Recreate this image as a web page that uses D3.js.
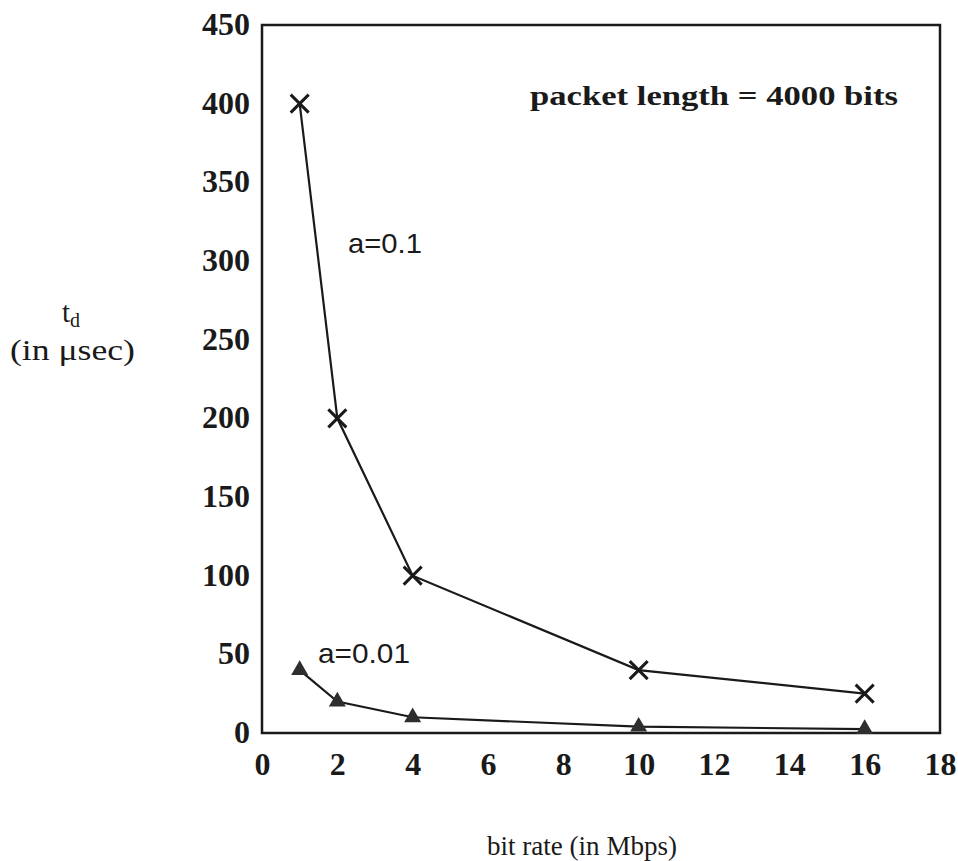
<!DOCTYPE html>
<html>
<head>
<meta charset="utf-8">
<script src="https://cdn.jsdelivr.net/npm/d3@7"></script>
<style>
  body { margin: 0; background: #fff; }
  svg { display: block; }
</style>
</head>
<body>
<svg id="chart" width="958" height="861"></svg>
<script>
// data
const bitRates = [1, 2, 4, 10, 16];
const delayA01 = [400, 200, 100, 40, 25];
const delayA001 = [40, 20, 10, 4, 2.5];
const xTicks = [0, 2, 4, 6, 8, 10, 12, 14, 16, 18];
const yTicks = [0, 50, 100, 150, 200, 250, 300, 350, 400, 450];

const svg = d3.select('#chart');
const margin = { left: 262, top: 25, right: 18, bottom: 128 };
const width = 958 - margin.left - margin.right;
const height = 861 - margin.top - margin.bottom;

const x = d3.scaleLinear().domain([0, 18]).range([0, width]);
const y = d3.scaleLinear().domain([0, 450]).range([height, 0]);

const g = svg.append('g').attr('transform', `translate(${margin.left},${margin.top})`);

const ink = '#1a1a1a';
const serif = '"Liberation Serif", "DejaVu Serif", serif';
const sans = '"Liberation Sans", Arial, sans-serif';

// frame
g.append('rect')
  .attr('width', width).attr('height', height)
  .attr('fill', 'none').attr('stroke', ink).attr('stroke-width', 2.5);

// axes (labels only, no tick marks)
const xAxis = g.append('g').attr('transform', `translate(0,${height})`)
  .call(d3.axisBottom(x).tickValues(xTicks).tickSize(0));
xAxis.selectAll('text').attr('dy', null).attr('y', 42);

const yAxis = g.append('g')
  .call(d3.axisLeft(y).tickValues(yTicks).tickSize(0).tickPadding(12));
yAxis.selectAll('text').attr('dy', '0.3em');

[xAxis, yAxis].forEach(a => {
  a.select('.domain').remove();
  a.selectAll('text')
    .attr('font-family', serif).attr('font-weight', 'bold')
    .attr('font-size', 32).attr('fill', ink);
});

const line = d3.line().x(d => x(d[0])).y(d => y(d[1]));

const s1 = bitRates.map((b, i) => [b, delayA01[i]]);
const s2 = bitRates.map((b, i) => [b, delayA001[i]]);

g.append('path').datum(s1).attr('d', line)
  .attr('fill', 'none').attr('stroke', ink).attr('stroke-width', 2.2);
g.append('path').datum(s2).attr('d', line)
  .attr('fill', 'none').attr('stroke', ink).attr('stroke-width', 2.2);

// cross markers
g.selectAll('path.cross').data(s1).join('path')
  .attr('class', 'cross')
  .attr('transform', d => `translate(${x(d[0])},${y(d[1])})`)
  .attr('d', 'M-9,-9L9,9M-9,9L9,-9')
  .attr('stroke', ink).attr('stroke-width', 3);

// triangle markers
g.selectAll('path.tri').data(s2).join('path')
  .attr('class', 'tri')
  .attr('transform', d => `translate(${x(d[0])},${y(d[1])})`)
  .attr('d', d3.symbol(d3.symbolTriangle, 125))
  .attr('fill', '#2e2e2e');

// annotations
svg.append('text').attr('x', 348).attr('y', 253)
  .attr('font-family', sans).attr('font-size', 28).attr('fill', ink)
  .attr('textLength', 74).attr('lengthAdjust', 'spacingAndGlyphs')
  .text('a=0.1');
svg.append('text').attr('x', 318).attr('y', 663)
  .attr('font-family', sans).attr('font-size', 28).attr('fill', ink)
  .attr('textLength', 92).attr('lengthAdjust', 'spacingAndGlyphs')
  .text('a=0.01');
svg.append('text').attr('x', 530).attr('y', 105)
  .attr('font-family', serif).attr('font-weight', 'bold').attr('font-size', 28)
  .attr('fill', ink)
  .attr('textLength', 368).attr('lengthAdjust', 'spacingAndGlyphs')
  .text('packet length = 4000 bits');

// axis titles
const yt = svg.append('text').attr('x', 62).attr('y', 322)
  .attr('font-family', serif).attr('font-size', 29).attr('fill', ink);
yt.append('tspan').text('t');
yt.append('tspan').attr('font-size', 20).attr('dy', 5).text('d');
svg.append('text').attr('x', 10).attr('y', 360)
  .attr('font-family', serif).attr('font-size', 29).attr('fill', ink)
  .attr('textLength', 125).attr('lengthAdjust', 'spacingAndGlyphs')
  .text('(in  μsec)');

svg.append('text').attr('x', 487).attr('y', 855)
  .attr('font-family', serif).attr('font-size', 28).attr('fill', ink)
  .attr('textLength', 190).attr('lengthAdjust', 'spacingAndGlyphs')
  .text('bit rate (in Mbps)');
</script>
</body>
</html>
